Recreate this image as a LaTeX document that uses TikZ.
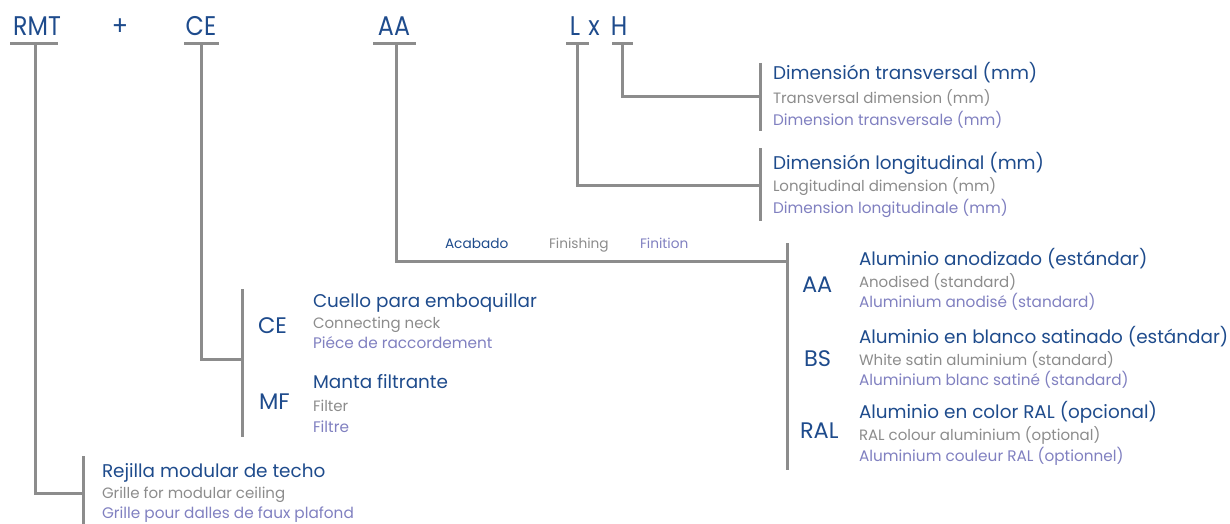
\documentclass[tikz,border=0pt]{standalone}
\usepackage{fontspec}
\setmainfont{Poppins}
\newfontfamily\topfont{Poppins}[FakeStretch=0.88]
\definecolor{cblue}{RGB}{30,75,140}
\definecolor{cgray}{RGB}{140,140,140}
\definecolor{cpurple}{RGB}{128,128,192}
\definecolor{cline}{RGB}{140,140,140}
\tikzset{
  every node/.style={inner sep=0pt, outer sep=0pt},
  toplbl/.style={font=\topfont\fontsize{27}{27}\selectfont, text=cblue, anchor=base},
  codelbl/.style={font=\fontsize{22.5}{22.5}\selectfont, text=cblue, anchor=base west},
  es/.style={font=\fontsize{18.4}{18.4}\selectfont, text=cblue, anchor=base west},
  en/.style={font=\fontsize{15}{15}\selectfont, text=cgray, anchor=base west},
  fr/.style={font=\fontsize{15.3}{15.3}\selectfont, text=cpurple, anchor=base west},
  small/.style={font=\fontsize{13.7}{13.7}\selectfont, anchor=base west},
  conn/.style={draw=cline, line width=3pt},
}
\begin{document}
\begin{tikzpicture}[x=1pt,y=-1pt]
\useasboundingbox (0,0) rectangle (1230,524);
% top codes
\node[toplbl] (rmt) at (37,36) {RMT};
\node[toplbl] (plus) at (120,36) {+};
\node[toplbl] (ce) at (201,36) {CE};
\node[toplbl] (aa) at (394,36) {AA};
\node[toplbl] (l) at (575,36) {L};
\node[toplbl] (x) at (594,36) {x};
\node[toplbl] (h) at (619,36) {H};
% underline coordinates
\coordinate (rmtU) at (35,44);
\coordinate (ceU) at (201,44);
\coordinate (aaU) at (396,44);
\coordinate (lU) at (577,44);
\coordinate (hU) at (622,44);
\draw[conn] (10,44) -- (58,44);
\draw[conn] (184,44) -- (219,44);
\draw[conn] (373,44) -- (416,44);
\draw[conn] (566,44) -- (589,44);
\draw[conn] (612,44) -- (633,44);
% bars
\coordinate (hBarT) at (760,63);  \coordinate (hBarB) at (760,131); \coordinate (hJ) at (760,97);
\coordinate (lBarT) at (760,148); \coordinate (lBarB) at (760,221); \coordinate (lJ) at (760,185);
\coordinate (aaBarT) at (787,243); \coordinate (aaBarB) at (787,470); \coordinate (aaJ) at (787,261);
\coordinate (ceBarT) at (242,289); \coordinate (ceBarB) at (242,437); \coordinate (ceJ) at (242,359);
\coordinate (rmtBarT) at (83,456); \coordinate (rmtBarB) at (83,524); \coordinate (rmtJ) at (83,493);
\draw[conn] (hBarT) -- (hBarB);
\draw[conn] (lBarT) -- (lBarB);
\draw[conn] (aaBarT) -- (aaBarB);
\draw[conn] (ceBarT) -- (ceBarB);
\draw[conn] (rmtBarT) -- (rmtBarB);
% stems
\draw[conn] (hU) |- (hJ);
\draw[conn] (lU) |- (lJ);
\draw[conn] (aaU) |- (aaJ);
\draw[conn] (ceU) |- (ceJ);
\draw[conn] (rmtU) |- (rmtJ);
% H group
\node[es] (h1) at (773,80) {Dimensión transversal (mm)};
\node[en] (h2) at (773,103) {Transversal dimension (mm)};
\node[fr] (h3) at (773,125) {Dimension transversale (mm)};
% L group
\node[es] (l1) at (773,169) {Dimensión longitudinal (mm)};
\node[en] (l2) at (773,191) {Longitudinal dimension (mm)};
\node[fr] (l3) at (773,213) {Dimension longitudinale (mm)};
% Acabado
\node[small, text=cblue] (fin1) at (445,248) {Acabado};
\node[small, text=cgray] (fin2) at (549,248) {Finishing};
\node[small, text=cpurple] (fin3) at (640,248) {Finition};
% AA group
\node[codelbl] (caa) at (802,292) {AA};
\node[es] (aa1) at (859,265) {Aluminio anodizado (estándar)};
\node[en] (aa2) at (859,287) {Anodised (standard)};
\node[fr] (aa3) at (859,307) {Aluminium anodisé (standard)};
% BS group
\node[codelbl] (cbs) at (804,366) {BS};
\node[es] (bs1) at (859,343) {Aluminio en blanco satinado (estándar)};
\node[en] (bs2) at (859,365) {White satin aluminium (standard)};
\node[fr] (bs3) at (859,385) {Aluminium blanc satiné (standard)};
% RAL group
\node[codelbl] (cral) at (800,438) {RAL};
\node[es] (ral1) at (859,418) {Aluminio en color RAL (opcional)};
\node[en] (ral2) at (859,440) {RAL colour aluminium (optional)};
\node[fr] (ral3) at (859,461) {Aluminium couleur RAL (optionnel)};
% CE group
\node[codelbl] (cce) at (258,333) {CE};
\node[es] (ce1) at (313,307) {Cuello para emboquillar};
\node[en] (ce2) at (313,328) {Connecting neck};
\node[fr] (ce3) at (313,348) {Piéce de raccordement};
% MF group
\node[codelbl] (cmf) at (259,409) {MF};
\node[es] (mf1) at (313,388) {Manta filtrante};
\node[en] (mf2) at (313,411) {Filter};
\node[fr] (mf3) at (313,432) {Filtre};
% RMT group
\node[es] (r1) at (102,477) {Rejilla modular de techo};
\node[en] (r2) at (102,498) {Grille for modular ceiling};
\node[fr] (r3) at (102,518) {Grille pour dalles de faux plafond};
\end{tikzpicture}
\end{document}
